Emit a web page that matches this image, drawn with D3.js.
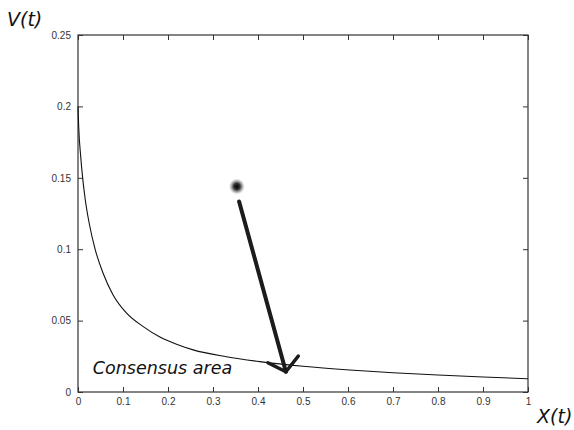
<!DOCTYPE html>
<html>
<head>
<meta charset="utf-8">
<script src="https://cdn.jsdelivr.net/npm/d3@7"></script>
<style>
  body { margin: 0; background: #fff; }
  .tick-label { font-family: "Liberation Sans", Arial, sans-serif; font-size: 10px; fill: #333; }
  .axis-title { font-family: "DejaVu Sans", Verdana, sans-serif; font-style: italic; font-size: 19px; fill: #111; }
  .note { font-family: "DejaVu Sans", Verdana, sans-serif; font-style: italic; font-size: 17.5px; fill: #111; }
</style>
</head>
<body>
<svg id="chart" width="574" height="430"></svg>
<script>
// curve
var curveX = [0, 0.0015, 0.006, 0.01, 0.016, 0.025, 0.038, 0.056, 0.078, 0.108, 0.145, 0.182, 0.219, 0.256, 0.33, 0.404, 0.5, 0.604, 0.7, 0.8, 0.9, 1.0];
var curveV = [0.2, 0.186, 0.165, 0.151, 0.135, 0.118, 0.1, 0.083, 0.068, 0.0552, 0.0458, 0.0385, 0.0335, 0.0295, 0.0247, 0.0213, 0.018, 0.0154, 0.0135, 0.0119, 0.0105, 0.0093];

// the point and the arrow pointing down to the curve
var dot = { x: 0.353, v: 0.1439 };
var arrowStart = { x: 0.358, v: 0.1334 };
var arrowTip = { x: 0.462, v: 0.0142 };
var arrowArms = [{ x: 0.422, v: 0.0205 }, { x: 0.4896, v: 0.0252 }];

var xTicks = [0, 0.1, 0.2, 0.3, 0.4, 0.5, 0.6, 0.7, 0.8, 0.9, 1];
var yTicks = [0, 0.05, 0.1, 0.15, 0.2, 0.25];
var xTickLabels = ['0', '0.1', '0.2', '0.3', '0.4', '0.5', '0.6', '0.7', '0.8', '0.9', '1'];
var yTickLabels = ['0', '0.05', '0.1', '0.15', '0.2', '0.25'];

var margin = { top: 35, left: 78 },
    chartWidth = 450,
    chartHeight = 357,
    tickLen = 5;

var svg = d3.select('#chart');

var defs = svg.append('defs');
var grad = defs.append('radialGradient').attr('id', 'dotGrad');
grad.append('stop').attr('offset', '0%').attr('stop-color', '#000').attr('stop-opacity', 1);
grad.append('stop').attr('offset', '40%').attr('stop-color', '#111').attr('stop-opacity', 0.85);
grad.append('stop').attr('offset', '100%').attr('stop-color', '#777').attr('stop-opacity', 0);
defs.append('filter').attr('id', 'soft')
    .append('feGaussianBlur').attr('stdDeviation', 0.6);

var xScale = d3.scaleLinear().domain([0, 1]).range([0, chartWidth]);
var yScale = d3.scaleLinear().domain([0, 0.25]).range([chartHeight, 0]);

var g = svg.append('g')
    .attr('transform', 'translate(' + margin.left + ',' + margin.top + ')');

// box
g.append('rect')
    .attr('x', 0).attr('y', 0)
    .attr('width', chartWidth).attr('height', chartHeight)
    .attr('fill', 'none')
    .attr('stroke', '#333')
    .attr('stroke-width', 1.2);

// inward ticks, all four sides
var xAxisBottom = d3.axisBottom(xScale).tickValues(xTicks)
    .tickSizeInner(-tickLen).tickSizeOuter(0)
    .tickFormat(function (d, i) { return xTickLabels[i]; });
var xAxisTop = d3.axisTop(xScale).tickValues(xTicks)
    .tickSizeInner(-tickLen).tickSizeOuter(0).tickFormat('');
var yAxisLeft = d3.axisLeft(yScale).tickValues(yTicks)
    .tickSizeInner(-tickLen).tickSizeOuter(0)
    .tickFormat(function (d, i) { return yTickLabels[i]; });
var yAxisRight = d3.axisRight(yScale).tickValues(yTicks)
    .tickSizeInner(-tickLen).tickSizeOuter(0).tickFormat('');

function styleAxis(sel) {
    sel.select('.domain').remove();
    sel.selectAll('.tick line').attr('stroke', '#333');
    sel.selectAll('.tick text').attr('class', 'tick-label').attr('font-family', null).attr('font-size', null);
}

g.append('g').attr('transform', 'translate(0,' + chartHeight + ')')
    .call(xAxisBottom).call(styleAxis)
    .selectAll('.tick text').attr('dy', '0.95em').attr('y', 3);
g.append('g').call(xAxisTop).call(styleAxis);
g.append('g').call(yAxisLeft).call(styleAxis)
    .selectAll('.tick text').attr('x', -7);
g.append('g').attr('transform', 'translate(' + chartWidth + ',0)')
    .call(yAxisRight).call(styleAxis);

// curve
var curveData = curveX.map(function (x, i) { return { x: x, v: curveV[i] }; });
var line = d3.line()
    .x(function (d) { return xScale(d.x); })
    .y(function (d) { return yScale(d.v); })
    .curve(d3.curveMonotoneX);

g.append('path')
    .datum(curveData)
    .attr('d', line)
    .attr('fill', 'none')
    .attr('stroke', '#111')
    .attr('stroke-width', 1.1);

// blurred dot
g.append('circle')
    .attr('cx', xScale(dot.x))
    .attr('cy', yScale(dot.v))
    .attr('r', 8)
    .attr('fill', 'url(#dotGrad)');

// arrow
var arrow = g.append('g').attr('filter', 'url(#soft)')
    .attr('stroke', '#1a1a1a').attr('fill', 'none').attr('stroke-linecap', 'round');
arrow.append('line')
    .attr('x1', xScale(arrowStart.x)).attr('y1', yScale(arrowStart.v))
    .attr('x2', xScale(arrowTip.x)).attr('y2', yScale(arrowTip.v))
    .attr('stroke-width', 4);
arrow.selectAll('.arm')
    .data(arrowArms)
    .enter()
    .append('line')
    .attr('class', 'arm')
    .attr('x1', function (d) { return xScale(d.x); })
    .attr('y1', function (d) { return yScale(d.v); })
    .attr('x2', xScale(arrowTip.x)).attr('y2', yScale(arrowTip.v))
    .attr('stroke-width', 3.5);

// texts
svg.append('text').attr('class', 'axis-title').attr('x', 7).attr('y', 26).text('V(t)');
svg.append('text').attr('class', 'axis-title').attr('x', 537).attr('y', 423).text('X(t)');
g.append('text').attr('class', 'note')
    .attr('x', xScale(0.033)).attr('y', yScale(0.0126))
    .text('Consensus area');
</script>
</body>
</html>
